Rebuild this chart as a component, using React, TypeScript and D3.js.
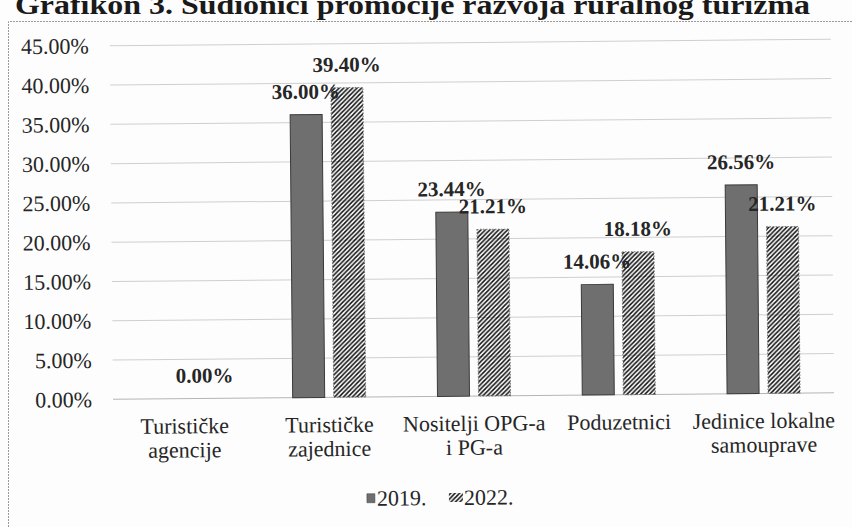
import React, { useEffect, useRef } from 'react';
import * as d3 from 'd3';

const categories = [
  ['Turističke', 'agencije'],
  ['Turističke', 'zajednice'],
  ['Nositelji OPG-a', 'i PG-a'],
  ['Poduzetnici'],
  ['Jedinice lokalne', 'samouprave']
];
const seriesNames = ['2019.', '2022.'];
const values2019: (number | null)[] = [null, 36.0, 23.44, 14.06, 26.56];
const values2022: (number | null)[] = [0.0, 39.4, 21.21, 18.18, 21.21];
const yTicks = [0, 5, 10, 15, 20, 25, 30, 35, 40, 45];
const title = 'Grafikon 3. Sudionici promocije razvoja ruralnog turizma';

const App = () => {
  const chartRef = useRef<SVGSVGElement | null>(null);

  useEffect(() => {
    const width = 852;
    const height = 527;
    const serif = '"Liberation Serif", "Times New Roman", serif';
    const ink = '#262626';

    const svg = d3.select(chartRef.current)
      .attr('width', width)
      .attr('height', height);
    svg.selectAll('*').remove();

    const defs = svg.append('defs');
    const hatch = defs.append('pattern')
      .attr('id', 'hatch')
      .attr('patternUnits', 'userSpaceOnUse')
      .attr('width', 4.5)
      .attr('height', 4.5);
    hatch.append('path')
      .attr('d', 'M-1,1 l2,-2 M0,4.5 l4.5,-4.5 M3.5,5.5 l2,-2')
      .attr('stroke', '#111')
      .attr('stroke-width', 1.5);

    svg.append('rect').attr('width', width).attr('height', height).attr('fill', '#fdfdfd');

    // scanned frame
    svg.append('path')
      .attr('d', `M8.5,${height} V21.5 H${width}`)
      .attr('fill', 'none')
      .attr('stroke', '#9a9a9a')
      .attr('stroke-dasharray', '2,1');

    svg.append('text')
      .attr('x', 15)
      .attr('y', 14)
      .attr('textLength', 795)
      .attr('lengthAdjust', 'spacingAndGlyphs')
      .style('font-family', serif)
      .style('font-weight', 'bold')
      .style('font-size', '27px')
      .style('fill', '#1a1a1a')
      .text(title);

    // the scan is slightly tilted
    const g = svg.append('g').attr('transform', 'rotate(-0.52, 120, 399)');

    const x0 = d3.scaleBand<number>()
      .domain(categories.map((_, i) => i))
      .range([112, 836]);
    const x1 = d3.scaleBand<string>()
      .domain(seriesNames)
      .range([0, 73])
      .paddingInner(0.2195);
    const y = d3.scaleLinear().domain([0, 45]).range([399.3, 45.7]);

    g.selectAll('line.grid')
      .data(yTicks)
      .enter()
      .append('line')
      .attr('class', 'grid')
      .attr('x1', 113)
      .attr('x2', 834)
      .attr('y1', d => y(d))
      .attr('y2', d => y(d))
      .attr('stroke', d => (d === 0 ? '#b5b5b5' : '#cfcfcf'))
      .attr('stroke-width', 1);

    g.selectAll('text.ytick')
      .data(yTicks)
      .enter()
      .append('text')
      .attr('class', 'ytick')
      .attr('x', 92)
      .attr('y', d => y(d))
      .attr('dy', '0.34em')
      .attr('text-anchor', 'end')
      .style('font-family', serif)
      .style('font-size', '22px')
      .style('fill', ink)
      .text(d => `${d.toFixed(2)}%`);

    const groupOffset = (x0.bandwidth() - 73) / 2;
    const rows = categories.flatMap((_, i) => [
      { cat: i, s: seriesNames[0], v: values2019[i] },
      { cat: i, s: seriesNames[1], v: values2022[i] }
    ]);
    const barX = (d: { cat: number; s: string }) => (x0(d.cat) as number) + groupOffset + (x1(d.s) as number);

    g.selectAll('rect.bar')
      .data(rows.filter(d => d.v !== null && (d.v as number) > 0))
      .enter()
      .append('rect')
      .attr('class', 'bar')
      .attr('x', d => barX(d))
      .attr('y', d => y(d.v as number))
      .attr('width', x1.bandwidth())
      .attr('height', d => y(0) - y(d.v as number))
      .attr('fill', d => (d.s === seriesNames[0] ? '#6f6f6f' : 'url(#hatch)'))
      .attr('stroke', d => (d.s === seriesNames[0] ? '#3a3a3a' : '#777'))
      .attr('stroke-dasharray', d => (d.s === seriesNames[0] ? null : '1.5,1.5'))
      .attr('stroke-width', 1);

    g.selectAll('text.value')
      .data(rows.filter(d => d.v !== null))
      .enter()
      .append('text')
      .attr('class', 'value')
      .attr('x', d => barX(d) + x1.bandwidth() / 2)
      .attr('y', d => y(d.v as number) - 16)
      .attr('text-anchor', 'middle')
      .style('font-family', serif)
      .style('font-weight', 'bold')
      .style('font-size', '21px')
      .style('fill', ink)
      .text(d => `${(d.v as number).toFixed(2)}%`);

    const catLabels = g.selectAll('text.cat')
      .data(categories)
      .enter()
      .append('text')
      .attr('class', 'cat')
      .attr('text-anchor', 'middle')
      .style('font-family', serif)
      .style('font-size', '22px')
      .style('fill', ink);
    catLabels.each(function (lines, i) {
      const cx = (x0(i) as number) + x0.bandwidth() / 2;
      d3.select(this)
        .selectAll('tspan')
        .data(lines)
        .enter()
        .append('tspan')
        .attr('x', cx)
        .attr('y', (_, j) => 434 + j * 24)
        .text(t => t);
    });

    // legend
    const legend = g.append('g').attr('transform', 'translate(366, 508)');
    legend.append('rect')
      .attr('x', 0)
      .attr('y', -12)
      .attr('width', 8)
      .attr('height', 9)
      .attr('fill', '#6f6f6f')
      .attr('stroke', '#3a3a3a')
      .attr('stroke-width', 0.5);
    legend.append('text')
      .attr('x', 10)
      .style('font-family', serif)
      .style('font-size', '22px')
      .style('fill', ink)
      .text(seriesNames[0]);
    legend.append('rect')
      .attr('x', 82)
      .attr('y', -12)
      .attr('width', 14)
      .attr('height', 9)
      .attr('fill', 'url(#hatch)');
    legend.append('text')
      .attr('x', 97)
      .style('font-family', serif)
      .style('font-size', '22px')
      .style('fill', ink)
      .text(seriesNames[1]);
  }, []);

  return (
    <svg ref={chartRef} style={{ position: 'absolute', left: 0, top: 0, display: 'block' }}></svg>
  );
};

export default App;
